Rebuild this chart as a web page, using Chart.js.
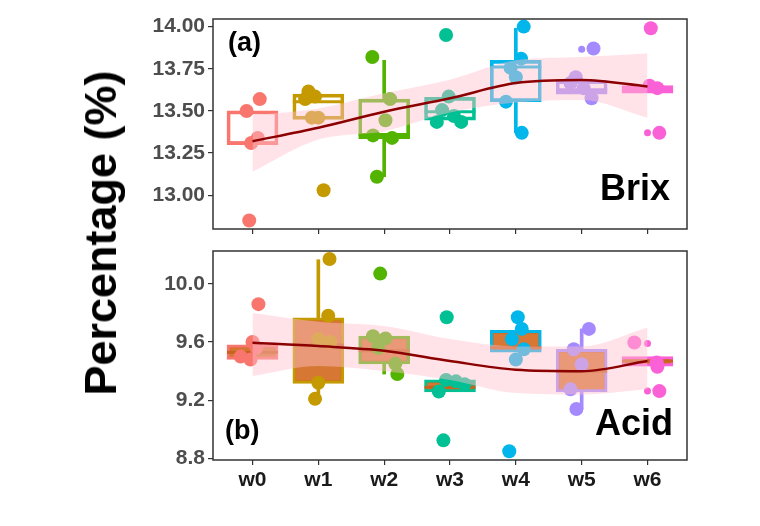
<!DOCTYPE html>
<html>
<head>
<meta charset="utf-8">
<script src="https://cdn.jsdelivr.net/npm/chart.js@4.4.0/dist/chart.umd.min.js"></script>
<style>
  html, body { margin: 0; padding: 0; background: #fff; }
  #wrap { position: relative; width: 760px; height: 526px; overflow: hidden; }
  canvas { position: absolute; left: 0; }
  #brixChart { top: 0; }
  #acidChart { top: 240px; }
  #yTitle {
    position: absolute; left: 101px; top: 233px;
    transform: translate(-50%, -50%) rotate(-90deg);
    font: bold 45px "Liberation Sans", Arial, sans-serif;
    white-space: nowrap; color: #000;
  }
</style>
</head>
<body>
<div id="wrap">
  <canvas id="brixChart" width="760" height="240"></canvas>
  <canvas id="acidChart" width="760" height="286"></canvas>
  <div id="yTitle">Percentage (%)</div>
</div>
<script>
const categories = ["w0", "w1", "w2", "w3", "w4", "w5", "w6"];
const groupColors = ["#F8766D", "#C49A00", "#53B400", "#00C094", "#00B6EB", "#A58AFF", "#FB61D7"];

// (a) Brix
const brixTicks = [13.00, 13.25, 13.50, 13.75, 14.00];
const brixQ1 = [13.30, 13.45, 13.335, 13.445, 13.555, 13.60, 13.605];
const brixMedian = [13.31, 13.555, 13.36, 13.495, 13.76, 13.625, 13.63];
const brixQ3 = [13.50, 13.60, 13.57, 13.58, 13.80, 13.68, 13.65];
const brixWhiskerLow = [13.30, 13.45, 13.11, 13.445, 13.37, 13.60, 13.605];
const brixWhiskerHigh = [13.50, 13.60, 13.80, 13.58, 13.99, 13.68, 13.65];
const brixPoints = [
  [13.57, 13.50, 13.34, 13.31, 12.85],
  [13.615, 13.585, 13.57, 13.46, 13.46, 13.03],
  [13.82, 13.57, 13.445, 13.355, 13.34, 13.11],
  [13.95, 13.585, 13.505, 13.47, 13.435, 13.435],
  [14.00, 13.81, 13.755, 13.70, 13.555, 13.37],
  [13.87, 13.70, 13.665, 13.635, 13.575],
  [13.99, 13.65, 13.635, 13.37]
];
const brixJitter = [
  [0.11, -0.09, 0.08, -0.02, -0.05],
  [-0.15, -0.05, -0.2, -0.1, 0.0, 0.08],
  [-0.18, 0.09, 0.02, -0.17, 0.12, -0.11],
  [-0.06, -0.02, -0.12, 0.06, -0.2, 0.17],
  [0.12, 0.08, -0.08, 0.0, -0.15, 0.09],
  [0.18, -0.09, -0.17, 0.03, 0.15],
  [0.05, 0.03, 0.15, 0.18]
];
const brixOutlierCat = [5, 6];
const brixOutliers = [13.865, 13.37];
const brixFit = [13.32, 13.40, 13.495, 13.575, 13.665, 13.683, 13.645];
const brixFitLow = [13.14, 13.33, 13.38, 13.49, 13.55, 13.565, 13.46];
const brixFitHigh = [13.475, 13.515, 13.605, 13.685, 13.80, 13.82, 13.84];

// (b) Acid
const acidTicks = [8.8, 9.2, 9.6, 10.0];
const acidQ1 = [9.48, 9.316, 9.45, 9.257, 9.53, 9.257, 9.435];
const acidMedian = [9.53, 9.58, 9.54, 9.29, 9.56, 9.40, 9.47];
const acidQ3 = [9.58, 9.767, 9.64, 9.34, 9.68, 9.55, 9.50];
const acidWhiskerLow = [9.48, 9.21, 9.38, 9.257, 9.53, 9.14, 9.435];
const acidWhiskerHigh = [9.58, 10.165, 9.64, 9.34, 9.68, 9.69, 9.50];
const acidPoints = [
  [9.86, 9.60, 9.56, 9.50, 9.48],
  [10.17, 9.78, 9.62, 9.60, 9.32, 9.21],
  [10.07, 9.64, 9.625, 9.56, 9.45, 9.38],
  [9.77, 9.34, 9.33, 9.26, 9.31, 8.925],
  [9.77, 9.69, 9.62, 9.55, 9.48, 8.85],
  [9.69, 9.55, 9.446, 9.275, 9.14],
  [9.597, 9.46, 9.43, 9.263]
];
const acidJitter = [
  [0.09, 0.0, 0.06, -0.18, -0.03],
  [0.17, 0.15, 0.0, 0.18, 0.0, -0.05],
  [-0.06, -0.17, 0.02, -0.09, 0.17, 0.2],
  [-0.05, -0.06, 0.09, -0.17, 0.22, -0.1],
  [0.03, 0.09, -0.06, 0.12, 0.0, -0.1],
  [0.11, -0.12, 0.0, -0.17, -0.08],
  [-0.2, 0.14, 0.15, 0.18]
];
const acidOutlierCat = [6, 6];
const acidOutliers = [9.59, 9.263];
const acidFit = [9.595, 9.572, 9.54, 9.47, 9.41, 9.40, 9.47];
const acidFitLow = [9.366, 9.435, 9.40, 9.34, 9.25, 9.24, 9.275];
const acidFitHigh = [9.80, 9.74, 9.71, 9.62, 9.57, 9.57, 9.70];

const FONT = '"Liberation Sans", Arial, sans-serif';
const BAND = 'rgba(255,192,203,0.45)';

function panelDatasets(q1, med, q3, wLo, wHi, pts, jit, outCat, outVal, fit, fitLo, fitHi, boxFill, medColor) {
  const whiskerData = [], whiskerColors = [];
  categories.forEach((c, i) => {
    if (wLo[i] < q1[i]) { whiskerData.push({ x: i, y: [wLo[i], q1[i]] }); whiskerColors.push(groupColors[i]); }
    if (wHi[i] > q3[i]) { whiskerData.push({ x: i, y: [q3[i], wHi[i]] }); whiskerColors.push(groupColors[i]); }
  });
  const pointData = [], pointColors = [];
  pts.forEach((list, i) => list.forEach((v, k) => {
    pointData.push({ x: i + jit[i][k], y: v });
    pointColors.push(groupColors[i]);
  }));
  const line = (vals) => vals.map((v, i) => ({ x: i, y: v }));
  return [
    { type: 'line', data: line(fit), borderColor: '#8B0000', borderWidth: 2.5,
      pointRadius: 0, fill: false, cubicInterpolationMode: 'monotone', order: 0 },
    { type: 'line', data: line(fitHi), borderColor: 'rgba(0,0,0,0)', borderWidth: 1,
      pointRadius: 0, fill: '+1', backgroundColor: BAND, cubicInterpolationMode: 'monotone', order: 1 },
    { type: 'line', data: line(fitLo), borderColor: 'rgba(0,0,0,0)', borderWidth: 1,
      pointRadius: 0, fill: false, cubicInterpolationMode: 'monotone', order: 1 },
    { type: 'scatter', data: pointData, pointRadius: 7, pointBorderWidth: 0,
      pointBackgroundColor: pointColors, order: 2 },
    { type: 'scatter', data: outCat.map((c, k) => ({ x: c, y: outVal[k] })), pointRadius: 3.5,
      pointBorderWidth: 0, pointBackgroundColor: outCat.map(c => groupColors[c]), order: 2 },
    { type: 'scatter', data: line(med), pointStyle: 'line', pointRadius: 25.5,
      pointBorderWidth: 3, pointBorderColor: medColor || groupColors, order: 3 },
    { type: 'bar', data: categories.map((c, i) => ({ x: i, y: [q1[i], q3[i]] })),
      backgroundColor: boxFill, borderColor: groupColors, borderWidth: 3, borderSkipped: false,
      barThickness: 51, grouped: false, order: 4 },
    { type: 'bar', data: whiskerData, backgroundColor: whiskerColors, borderWidth: 0,
      barThickness: 3, grouped: false, order: 5 }
  ];
}

const panelDecor = {
  id: 'panelDecor',
  afterDraw(chart, args, opts) {
    const { ctx, chartArea: a } = chart;
    ctx.save();
    ctx.strokeStyle = '#333';
    ctx.lineWidth = 1.5;
    ctx.strokeRect(a.left, a.top, a.right - a.left, a.bottom - a.top);
    ctx.fillStyle = '#000';
    ctx.font = 'bold 27px ' + FONT;
    ctx.textAlign = 'left';
    ctx.textBaseline = 'middle';
    ctx.fillText(opts.tag, a.left + opts.tagDx, a.top + opts.tagDy);
    ctx.font = 'bold 36px ' + FONT;
    ctx.textAlign = 'right';
    ctx.textBaseline = 'alphabetic';
    ctx.fillText(opts.name, a.right - opts.nameDx, a.bottom - opts.nameDy);
    ctx.restore();
  }
};

function makeChart(id, datasets, cfg) {
  const tickGrid = { drawOnChartArea: false, drawTicks: true, tickLength: 5, color: '#333', lineWidth: 1.2, offset: false };
  return new Chart(document.getElementById(id), {
    data: { datasets },
    plugins: [panelDecor],
    options: {
      responsive: false,
      animation: false,
      layout: { autoPadding: false, padding: { left: 0, right: 73, top: cfg.padTop, bottom: 0 } },
      plugins: {
        legend: { display: false },
        tooltip: { enabled: false },
        panelDecor: cfg.decor
      },
      scales: {
        x: {
          type: 'linear', min: -0.6, max: 6.6, offset: false,
          afterBuildTicks: s => { s.ticks = categories.map((c, i) => ({ value: i })); },
          afterFit: s => { s.height = cfg.xHeight; s.paddingLeft = 0; s.paddingRight = 0; },
          ticks: {
            display: cfg.showX, autoSkip: false, maxRotation: 0, padding: 3,
            callback: v => categories[v],
            font: { family: FONT, size: 21, weight: 'bold' }, color: '#1a1a1a'
          },
          grid: tickGrid,
          border: { display: false }
        },
        y: {
          type: 'linear', min: cfg.yMin, max: cfg.yMax,
          afterBuildTicks: s => { s.ticks = cfg.yTicks.map(v => ({ value: v })); },
          afterFit: s => { s.width = 213; s.paddingTop = 0; s.paddingBottom = 0; },
          ticks: {
            padding: 3, autoSkip: false,
            callback: v => v.toFixed(cfg.dec),
            font: { family: FONT, size: 21, weight: 'bold' }, color: '#4d4d4d'
          },
          grid: tickGrid,
          border: { display: false }
        }
      }
    }
  });
}

makeChart('brixChart',
  panelDatasets(brixQ1, brixMedian, brixQ3, brixWhiskerLow, brixWhiskerHigh, brixPoints, brixJitter,
    brixOutlierCat, brixOutliers, brixFit, brixFitLow, brixFitHigh, 'rgba(255,255,255,0)', null),
  { padTop: 19, xHeight: 11, showX: false, yMin: 12.80, yMax: 14.045, yTicks: brixTicks, dec: 2,
    decor: { tag: '(a)', tagDx: 15, tagDy: 25, name: 'Brix', nameDx: 17, nameDy: 29 } });

makeChart('acidChart',
  panelDatasets(acidQ1, acidMedian, acidQ3, acidWhiskerLow, acidWhiskerHigh, acidPoints, acidJitter,
    acidOutlierCat, acidOutliers, acidFit, acidFitLow, acidFitHigh, 'rgba(210,105,30,0.9)', '#C8621C'),
  { padTop: 11, xHeight: 66, showX: true, yMin: 8.79, yMax: 10.225, yTicks: acidTicks, dec: 1,
    decor: { tag: '(b)', tagDx: 12, tagDy: 181, name: 'Acid', nameDx: 14, nameDy: 25 } });
</script>
</body>
</html>
